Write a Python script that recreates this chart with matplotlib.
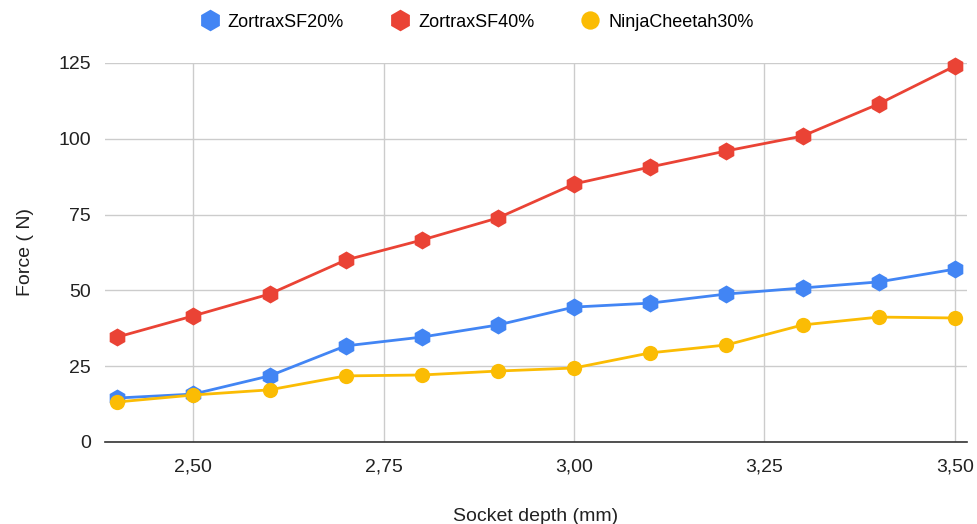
"""
Force vs socket depth for three printed materials.
"""

import matplotlib
matplotlib.use("Agg")
import matplotlib.pyplot as plt
from matplotlib.ticker import FuncFormatter

depth = [2.4, 2.5, 2.6, 2.7, 2.8, 2.9, 3.0, 3.1, 3.2, 3.3, 3.4, 3.5]
zortrax20 = [14.5, 15.8, 21.8, 31.7, 34.6, 38.6, 44.5, 45.8, 48.8, 50.8, 52.8, 57.0]
zortrax40 = [34.6, 41.6, 48.8, 60.0, 66.6, 73.9, 85.1, 90.7, 96.0, 100.9, 111.5, 124.0]
ninja30 = [13.2, 15.5, 17.2, 21.8, 22.1, 23.4, 24.4, 29.4, 32.0, 38.6, 41.2, 40.9]

x_ticks = [2.5, 2.75, 3.0, 3.25, 3.5]
y_ticks = [0, 25, 50, 75, 100, 125]

plt.rcParams["font.family"] = ["Liberation Sans", "DejaVu Sans"]

fig = plt.figure(figsize=(9.78, 5.24), dpi=100)
ax = fig.add_axes([0.1074, 0.1565, 0.8814, 0.7233])

series = [
    ("ZortraxSF20%", zortrax20, "#4285F4", "h"),
    ("ZortraxSF40%", zortrax40, "#EA4335", "h"),
    ("NinjaCheetah30%", ninja30, "#FBBC04", "o"),
]
for name, vals, col, mk in series:
    ax.plot(depth, vals, color=col, lw=2.0, marker=mk, ms=13 if mk == "h" else 11,
            markeredgewidth=0, label=name, clip_on=False, zorder=3)

ax.set_xlim(2.384, 3.516)
ax.set_ylim(0, 125)
ax.set_xticks(x_ticks)
ax.set_yticks(y_ticks)
ax.xaxis.set_major_formatter(FuncFormatter(lambda v, p: f"{v:.2f}".replace(".", ",")))
ax.tick_params(length=0, labelsize=14, colors="#222222", pad=10)
ax.tick_params(axis="x", pad=12)
ax.grid(True, color="#cccccc", lw=1)
ax.set_axisbelow(True)
for s in ["top", "right", "left"]:
    ax.spines[s].set_visible(False)
ax.spines["bottom"].set_color("#333333")
ax.spines["bottom"].set_linewidth(1.2)

ax.set_xlabel("Socket depth (mm)", fontsize=14, color="#222222", labelpad=23)
ax.set_ylabel("Force ( N)", fontsize=14, color="#222222", labelpad=18)

fig.legend(loc="upper center", bbox_to_anchor=(0.488, 1.005), ncol=3, frameon=False,
           fontsize=13, handlelength=1, handletextpad=0.5, columnspacing=2.6,
           markerscale=1.2)
for h in fig.legends[0].legend_handles:
    h.set_linestyle("none")

fig.savefig("out.png", dpi=100)
